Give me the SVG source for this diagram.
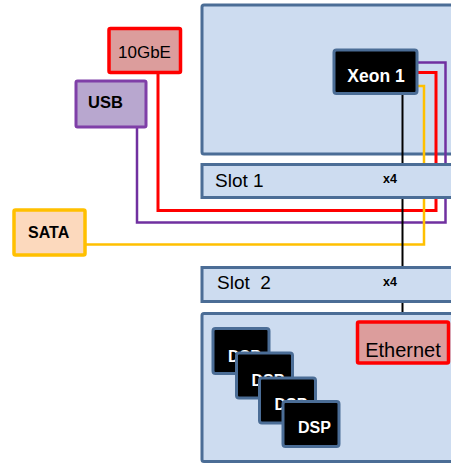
<svg xmlns="http://www.w3.org/2000/svg" width="451" height="464" viewBox="0 0 451 464">
<style>
.board{fill:#cddcf0;stroke:#4b6d96;stroke-width:3}
.chip{fill:#000;stroke:#4b6d96;stroke-width:3}
.lbl{font-family:"Liberation Sans",Arial,sans-serif;fill:#000}
.w{fill:#fff;font-weight:bold}
.b{font-weight:bold}
.ln{fill:none;stroke-linejoin:miter}
</style>
<rect width="451" height="464" fill="#fff"/>
<g id="board-top"><rect class="board" x="202" y="5" width="270" height="149" rx="2"/></g>
<g id="connectors">
<polyline class="ln" points="418,62.5 445.5,62.5 445.5,222.5 137,222.5 137,127" stroke="#7030a0" stroke-width="2.5"/>
<polyline class="ln" points="418,72.5 436,72.5 436,210.5 158,210.5 158,73" stroke="#ff0000" stroke-width="3"/>
<polyline class="ln" points="418,86 424,86 424,244.5 86,244.5" stroke="#ffc000" stroke-width="2.5"/>
<line x1="402.5" y1="94" x2="402.5" y2="313" stroke="#000" stroke-width="2"/>
</g>
<g id="slot1"><rect class="board" x="202" y="164.5" width="270" height="33"/>
<text class="lbl" x="215" y="187" font-size="19">Slot 1</text>
<text class="lbl b" x="383" y="183" font-size="12.5">x4</text></g>
<g id="slot2"><rect class="board" x="202" y="267.5" width="270" height="34"/>
<text class="lbl" x="217" y="289" font-size="19" xml:space="preserve">Slot  2</text>
<text class="lbl b" x="383" y="286" font-size="12.5">x4</text></g>
<g id="board-bottom"><rect class="board" x="202" y="313.5" width="270" height="148" rx="2"/></g>
<g id="tengbe"><rect x="109" y="28.5" width="71.5" height="44" fill="#dc9d9c" stroke="#ff0000" stroke-width="3.5" rx="1.5"/>
<text class="lbl" x="144.5" y="58" font-size="17" text-anchor="middle">10GbE</text></g>
<g id="usb"><rect x="76" y="81" width="70" height="46" fill="#b8a7cf" stroke="#7f3fa8" stroke-width="3" rx="1.5"/>
<text class="lbl b" x="88" y="108" font-size="16.5">USB</text></g>
<g id="sata"><rect x="14" y="210" width="71" height="45" fill="#fcd9bd" stroke="#ffc000" stroke-width="3.5" rx="1.5"/>
<text class="lbl b" x="28" y="238" font-size="16">SATA</text></g>
<g id="xeon1"><rect class="chip" x="334" y="50" width="83" height="43.5" rx="2.5"/>
<text class="lbl w" x="376" y="82" font-size="17.5" text-anchor="middle">Xeon 1</text></g>
<g id="ethernet"><rect x="357.5" y="322" width="91" height="41" fill="#dc9d9c" stroke="#ff0000" stroke-width="3.5" rx="1.5"/>
<text class="lbl" x="403" y="357" font-size="20" text-anchor="middle">Ethernet</text></g>
<g id="dsp1"><rect class="chip" x="213" y="328.5" width="56" height="45" rx="2.5"/>
<text class="lbl w" x="228" y="362" font-size="16">DSP</text></g>
<g id="dsp2"><rect class="chip" x="236.5" y="353" width="56" height="45" rx="2.5"/>
<text class="lbl w" x="251.5" y="386" font-size="16">DSP</text></g>
<g id="dsp3"><rect class="chip" x="259.5" y="378" width="56" height="45" rx="2.5"/>
<text class="lbl w" x="274.5" y="410" font-size="16">DSP</text></g>
<g id="dsp4"><rect class="chip" x="283" y="401.5" width="56" height="45" rx="2.5"/>
<text class="lbl w" x="298" y="433" font-size="16">DSP</text></g>
</svg>
